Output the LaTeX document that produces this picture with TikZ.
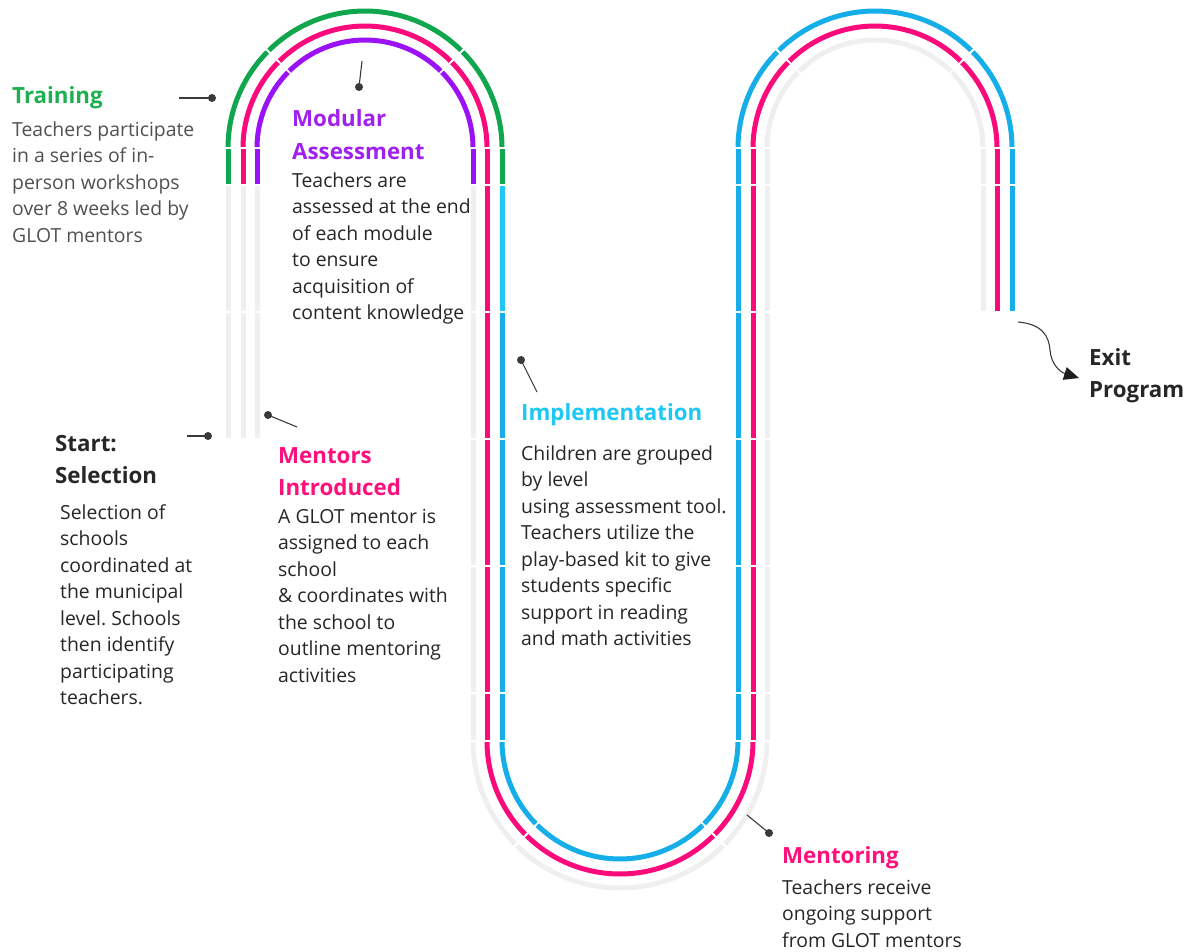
\documentclass[tikz,border=0pt]{standalone}
\usepackage{fontspec}
\setmainfont{Open Sans}
\usetikzlibrary{arrows.meta,calc}
\frenchspacing

\definecolor{trkgray}{HTML}{EFEFEF}
\definecolor{trkgreen}{HTML}{0FA64E}
\definecolor{trkpink}{HTML}{FA0A7A}
\definecolor{trkpurple}{HTML}{9B12F5}
\definecolor{trkcyan}{HTML}{22C8F5}
\definecolor{trkblue}{HTML}{16AEE9}
\definecolor{ttlgreen}{HTML}{1DB04F}
\definecolor{ttlpurple}{HTML}{A020F0}
\definecolor{ttlpink}{HTML}{FF0F7B}
\definecolor{ttlcyan}{HTML}{1EC8F5}
\definecolor{bodytxt}{HTML}{262626}
\definecolor{softtxt}{HTML}{505050}
\definecolor{pincol}{HTML}{3A3A3A}
\definecolor{arrowcol}{HTML}{1E1E1E}

% straight piece of a track, with a hair gap at both ends
\newcommand\vseg[4]{\draw[trk,#1] (#2,#3+1) -- (#2,#4-1);}
% curved piece of a track: colour, centre x, centre y, radius, from angle, to angle
\newcommand\arcseg[6]{%
  \pgfmathsetmacro\angA{#5+0.5*sign(#6-#5)}%
  \pgfmathsetmacro\angB{#6-0.5*sign(#6-#5)}%
  \draw[trk,#1] (#2,#3) ++(\angA:#4) arc[start angle=\angA, end angle=\angB, radius=#4];}

% multi-line text blocks are placed by the baseline of their last line
\tikzset{
  trk/.style={line width=5pt, line cap=butt},
  pinline/.style={draw=pincol, line width=1.1pt},
  pindot/.style={circle, fill=pincol, inner sep=0pt, minimum size=8pt},
  ttl/.style={anchor=base west, inner sep=0pt, align=left,
    font=\fontsize{22.3}{32.5}\selectfont\bfseries},
  body/.style={anchor=base west, inner sep=0pt, align=left, text=bodytxt,
    font=\fontsize{19.4}{26.5}\selectfont},
}

\begin{document}
\begin{tikzpicture}[x=1pt,y=-1pt]
\useasboundingbox (0,0) rectangle (1188,951);

% ---------- track A : purple over the first arch, grey elsewhere ----------
\foreach \ya/\yb in {185/312,312/439} {\vseg{trkgray}{257}{\ya}{\yb}}
\vseg{trkpurple}{257}{148}{185}
\arcseg{trkpurple}{365}{148}{108}{180}{225}
\arcseg{trkpurple}{365}{148}{108}{225}{315}
\arcseg{trkpurple}{365}{148}{108}{315}{360}
\vseg{trkpurple}{473}{148}{185}
\foreach \ya/\yb in {185/312,312/439,439/566,566/693,693/741} {\vseg{trkgray}{473}{\ya}{\yb}}
\arcseg{trkgray}{620}{741}{147}{180}{135}
\arcseg{trkgray}{620}{741}{147}{135}{45}
\arcseg{trkgray}{620}{741}{147}{45}{0}
\foreach \ya/\yb in {148/185,185/312,312/439,439/566,566/693,693/741} {\vseg{trkgray}{767}{\ya}{\yb}}
\arcseg{trkgray}{875}{148}{108}{180}{225}
\arcseg{trkgray}{875}{148}{108}{225}{315}
\arcseg{trkgray}{875}{148}{108}{315}{360}
\foreach \ya/\yb in {148/185,185/312} {\vseg{trkgray}{983}{\ya}{\yb}}

% ---------- track B : pink from the first arch to the end ----------
\foreach \ya/\yb in {185/312,312/439} {\vseg{trkgray}{243}{\ya}{\yb}}
\vseg{trkpink}{243}{148}{185}
\arcseg{trkpink}{365}{148}{122}{180}{225}
\arcseg{trkpink}{365}{148}{122}{225}{315}
\arcseg{trkpink}{365}{148}{122}{315}{360}
\foreach \ya/\yb in {148/185,185/312,312/439,439/566,566/693,693/741} {\vseg{trkpink}{487}{\ya}{\yb}}
\arcseg{trkpink}{620}{741}{133}{180}{135}
\arcseg{trkpink}{620}{741}{133}{135}{45}
\arcseg{trkpink}{620}{741}{133}{45}{0}
\foreach \ya/\yb in {148/185,185/312,312/439,439/566,566/693,693/741} {\vseg{trkpink}{753}{\ya}{\yb}}
\arcseg{trkpink}{875}{148}{122}{180}{225}
\arcseg{trkpink}{875}{148}{122}{225}{315}
\arcseg{trkpink}{875}{148}{122}{315}{360}
\foreach \ya/\yb in {148/185,185/312} {\vseg{trkpink}{997}{\ya}{\yb}}

% ---------- track C : green over the first arch, then blue ----------
\foreach \ya/\yb in {185/312,312/439} {\vseg{trkgray}{228}{\ya}{\yb}}
\vseg{trkgreen}{228}{148}{185}
\arcseg{trkgreen}{365}{148}{137}{180}{225}
\arcseg{trkgreen}{365}{148}{137}{225}{315}
\arcseg{trkgreen}{365}{148}{137}{315}{360}
\vseg{trkgreen}{502}{148}{185}
\vseg{trkcyan}{502}{185}{312}
\foreach \ya/\yb in {312/439,439/566,566/693,693/741} {\vseg{trkblue}{502}{\ya}{\yb}}
\arcseg{trkblue}{620}{741}{118}{180}{135}
\arcseg{trkblue}{620}{741}{118}{135}{45}
\arcseg{trkblue}{620}{741}{118}{45}{0}
\foreach \ya/\yb in {148/185,185/312,312/439,439/566,566/693,693/741} {\vseg{trkblue}{738}{\ya}{\yb}}
\arcseg{trkblue}{875}{148}{137}{180}{225}
\arcseg{trkblue}{875}{148}{137}{225}{315}
\arcseg{trkblue}{875}{148}{137}{315}{360}
\foreach \ya/\yb in {148/185,185/312} {\vseg{trkblue}{1012}{\ya}{\yb}}

% ---------- pins ----------
\node[pindot] (p-train) at (212,98) {};
\coordinate (q-train) at (179,98);
\node[pindot] (p-mod) at (359,87) {};
\coordinate (q-mod) at (362,61);
\node[pindot] (p-start) at (208,436) {};
\coordinate (q-start) at (187,436);
\node[pindot] (p-ment) at (268,415) {};
\coordinate (q-ment) at (297,427);
\node[pindot] (p-impl) at (521,360) {};
\coordinate (q-impl) at (537,392);
\node[pindot] (p-mtr) at (769,833) {};
\coordinate (q-mtr) at (747,815);
\foreach \n in {train,mod,start,ment,impl,mtr} {\draw[pinline] (q-\n) -- (p-\n.center);}

% ---------- texts ----------
\node[ttl, text=ttlgreen] (t-train) at (12,103) {Training};
\node[body, text=softtxt] (b-train) at (12,242) {Teachers participate\\in a series of in-\\person workshops\\over 8 weeks led by\\GLOT mentors};

\node[ttl, text=ttlpurple] (t-mod) at (292,159) {Modular\\Assessment};
\node[body] (b-mod) at (292,319.5) {Teachers are\\assessed at the end\\of each module\\to ensure\\acquisition of\\content knowledge};

\node[ttl, text=bodytxt] (t-start) at (55,483.5) {Start:\\Selection};
\node[body] (b-start) at (60,704.5) {Selection of\\schools\\coordinated at\\the municipal\\level. Schools\\then identify\\participating\\teachers.};

\node[ttl, text=ttlpink] (t-ment) at (278,495.5) {Mentors\\Introduced};
\node[body] (b-ment) at (278,682) {A GLOT mentor is\\assigned to each\\school\\\& coordinates with\\the school to\\outline mentoring\\activities};

\node[ttl, text=ttlcyan] (t-impl) at (521,420) {Implementation};
\node[body] (b-impl) at (521,645.5) {Children are grouped\\by level\\using assessment tool.\\Teachers utilize the\\play-based kit to give\\students specific\\support in reading\\and math activities};

\node[ttl, text=ttlpink] (t-mtr) at (782,863) {Mentoring};
\node[body] (b-mtr) at (782,947) {Teachers receive\\ongoing support\\from GLOT mentors};

\node[ttl, text=bodytxt] (t-exit) at (1089,397.5) {Exit\\Program};

% ---------- exit arrow ----------
\coordinate (exit-from) at (1018,322);
\coordinate (exit-to) at (1079,378);
\draw[draw=pincol, line width=1.1pt, -{Triangle[length=15pt,width=13pt,color=arrowcol]}]
  (exit-from) .. controls (1042,324) and (1049,336) .. (1050,350)
  .. controls (1051,364) and (1060,372) .. (exit-to);
\end{tikzpicture}
\end{document}
